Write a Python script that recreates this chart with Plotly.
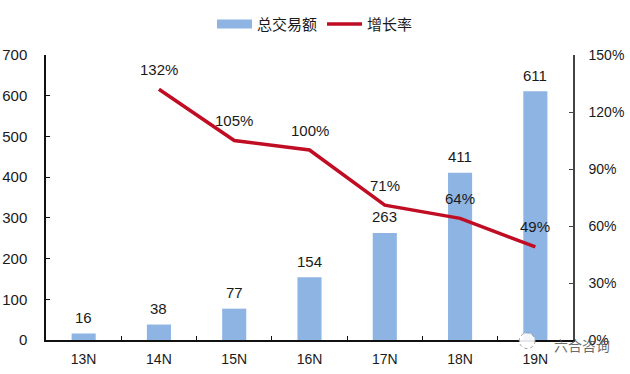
import plotly.graph_objects as go

categories = ["13N", "14N", "15N", "16N", "17N", "18N", "19N"]
total_volume = [16, 38, 77, 154, 263, 411, 611]
growth_cats = ["14N", "15N", "16N", "17N", "18N", "19N"]
growth_rate = [132, 105, 100, 71, 64, 49]
left_ticks = [0, 100, 200, 300, 400, 500, 600, 700]
right_ticks = [0, 30, 60, 90, 120, 150]
right_labels = ["0%", "30%", "60%", "90%", "120%", "150%"]

FONT = "Liberation Sans, Arial, sans-serif"
TXT = "#1a1a1a"
BLUE = "#8eb4e3"
RED = "#c00d23"

fig = go.Figure()
fig.add_bar(
    x=categories, y=total_volume, name="总交易额", width=0.32,
    marker=dict(color=BLUE, line=dict(width=0)), showlegend=False,
)
fig.add_scatter(
    x=[None], y=[None], name="总交易额", mode="lines",
    line=dict(color=BLUE, width=9),
)
fig.add_scatter(
    x=growth_cats, y=growth_rate, name="增长率", yaxis="y2",
    mode="lines", line=dict(color=RED, width=3.5), cliponaxis=False,
)
for c, v in zip(categories, total_volume):
    fig.add_annotation(x=c, y=v, yref="y", text=str(v), showarrow=False, yshift=16,
                       font=dict(size=15, color=TXT))
for c, v in zip(growth_cats, growth_rate):
    fig.add_annotation(x=c, y=v, yref="y2", text=f"{v}%", showarrow=False, yshift=20,
                       font=dict(size=15, color=TXT))
fig.add_annotation(
    xref="paper", yref="paper", x=0.96, xanchor="left", y=-0.0175, yanchor="middle",
    text="六合咨询", showarrow=False,
    font=dict(size=14, color="rgba(80,80,80,0.85)", family="Noto Sans CJK SC"),
)
fig.add_shape(
    type="circle", xref="paper", yref="paper", x0=0.898, x1=0.928, y0=-0.03, y1=0.025,
    fillcolor="rgba(255,255,255,0.9)", line=dict(color="#999999", width=1, dash="dot"),
)
fig.update_layout(
    template=None,
    width=630, height=374, autosize=False,
    margin=dict(l=46, r=57, t=55, b=34, autoexpand=False),
    paper_bgcolor="white", plot_bgcolor="white",
    font=dict(family=FONT, size=15, color=TXT),
    showlegend=True, bargap=0.68,
    legend=dict(
        orientation="h", x=0.5, xanchor="center", xref="container",
        y=0.935, yanchor="middle", yref="container",
        font=dict(size=15, family="Noto Sans CJK SC, sans-serif", color=TXT),
        itemwidth=35, bgcolor="rgba(0,0,0,0)",
    ),
    xaxis=dict(
        type="category", categoryorder="array", categoryarray=categories,
        showline=True, linecolor="#111111", linewidth=1.5, showgrid=False,
        ticks="inside", tickson="boundaries", ticklen=4, tickcolor="#111111",
        tickfont=dict(size=14), range=[-0.5, 6.5], zeroline=False, automargin=False,
        ticklabelstandoff=5,
    ),
    yaxis=dict(
        range=[0, 700], tickvals=left_ticks, showline=True, linecolor="#111111",
        linewidth=1.5, showgrid=False, ticks="inside", ticklen=4, tickcolor="#111111",
        tickfont=dict(size=15), zeroline=False, automargin=False, ticklabelstandoff=14,
    ),
    yaxis2=dict(
        range=[0, 150], tickvals=right_ticks, ticktext=right_labels, overlaying="y",
        side="right", showline=True, linecolor="#444444", linewidth=1.5, showgrid=False,
        ticks="inside", ticklen=4, tickcolor="#444444", tickfont=dict(size=14),
        zeroline=False, automargin=False, ticklabelstandoff=11,
    ),
)
fig.write_html("out.html", post_script="document.body.style.margin='0';",
               config={"displayModeBar": False})
